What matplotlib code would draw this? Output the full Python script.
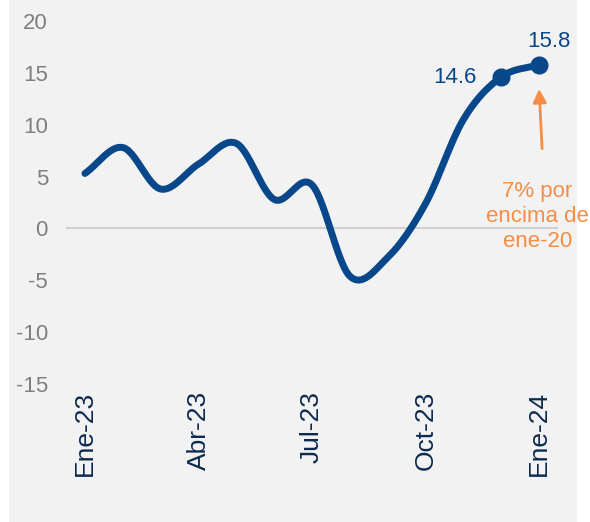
import numpy as np
import matplotlib
matplotlib.use("Agg")
import matplotlib.pyplot as plt

plt.rcParams['font.family'] = ['Liberation Sans', 'DejaVu Sans']

# Data
months = ['Ene-23', 'Feb-23', 'Mar-23', 'Abr-23', 'May-23', 'Jun-23', 'Jul-23',
          'Ago-23', 'Sep-23', 'Oct-23', 'Nov-23', 'Dic-23', 'Ene-24']
values = [5.3, 7.8, 3.8, 6.2, 8.2, 2.8, 4.2, -4.6, -2.8, 2.4, 10.5, 14.6, 15.8]
tick_labels = ['Ene-23', 'Abr-23', 'Jul-23', 'Oct-23', 'Ene-24']
note = '7% por\nencima de\nene-20'

navy = '#07478a'
orange = '#f58d45'


def smooth(x, y, n=30):
    # Catmull-Rom style smoothing, like Excel's smoothed line
    x = np.asarray(x, float)
    y = np.asarray(y, float)
    px = np.concatenate([[2 * x[0] - x[1]], x, [2 * x[-1] - x[-2]]])
    py = np.concatenate([[2 * y[0] - y[1]], y, [2 * y[-1] - y[-2]]])
    xs, ys = [], []
    t = np.linspace(0, 1, n)
    for i in range(1, len(px) - 2):
        p0, p1, p2, p3 = [np.array([px[j], py[j]]) for j in range(i - 1, i + 3)]
        c1 = p1 + (p2 - p0) / 6
        c2 = p2 - (p3 - p1) / 6
        pts = ((1 - t) ** 3)[:, None] * p1 + (3 * (1 - t) ** 2 * t)[:, None] * c1 \
            + (3 * (1 - t) * t ** 2)[:, None] * c2 + (t ** 3)[:, None] * p2
        xs.extend(pts[:, 0])
        ys.extend(pts[:, 1])
    return np.array(xs), np.array(ys)


fig = plt.figure(figsize=(5.9, 5.22), dpi=100)
bg = fig.add_axes([9 / 590, 0, 568 / 590, 1], zorder=-1)
bg.set_facecolor('#f2f2f2')
bg.set_xticks([])
bg.set_yticks([])
for s in bg.spines.values():
    s.set_visible(False)

ax = fig.add_axes([66 / 590, 1 - 384 / 522, 492 / 590, 363 / 522])
ax.patch.set_alpha(0)

x = np.arange(len(values))
sx, sy = smooth(x, values)
ax.plot(sx, sy, color=navy, lw=5, solid_capstyle='round', zorder=3)
ax.plot(x[-2:], values[-2:], 'o', color=navy, ms=12, zorder=4)

ax.axhline(0, color='#d0d0d0', lw=1.5, zorder=1)

ax.set_xlim(-0.5, 12.5)
ax.set_ylim(-15, 20)
ax.set_yticks(range(-15, 21, 5))
ax.set_yticklabels([str(v) for v in range(-15, 21, 5)], fontsize=16, color='#7f7f7f')
ax.set_xticks([months.index(m) for m in tick_labels])
ax.set_xticklabels(tick_labels, rotation=90, fontsize=19, color='#0d2a4f')
ax.tick_params(axis='y', length=0, pad=13)
ax.tick_params(axis='x', length=0, pad=5)
for s in ax.spines.values():
    s.set_visible(False)

# data labels
ax.annotate(f'{values[-1]}', (x[-1], values[-1]), xytext=(7, 9), textcoords='offset points',
            ha='center', va='bottom', fontsize=16, color=navy)
ax.annotate(f'{values[-2]}', (x[-2], values[-2]), xytext=(-18, 0), textcoords='offset points',
            ha='right', va='center', fontsize=16, color=navy)

# orange note
ax.annotate('', xy=(x[-1], 13.45), xytext=(x[-1] + 0.08, 7.7),
            arrowprops=dict(arrowstyle='-|>', color=orange, lw=2, mutation_scale=20,
                            shrinkA=0, shrinkB=0))
ax.text(x[-1] - 0.05, 4.6, note, ha='center', va='top', fontsize=16, color=orange,
        linespacing=1.27)

fig.savefig('out.png', dpi=100)
